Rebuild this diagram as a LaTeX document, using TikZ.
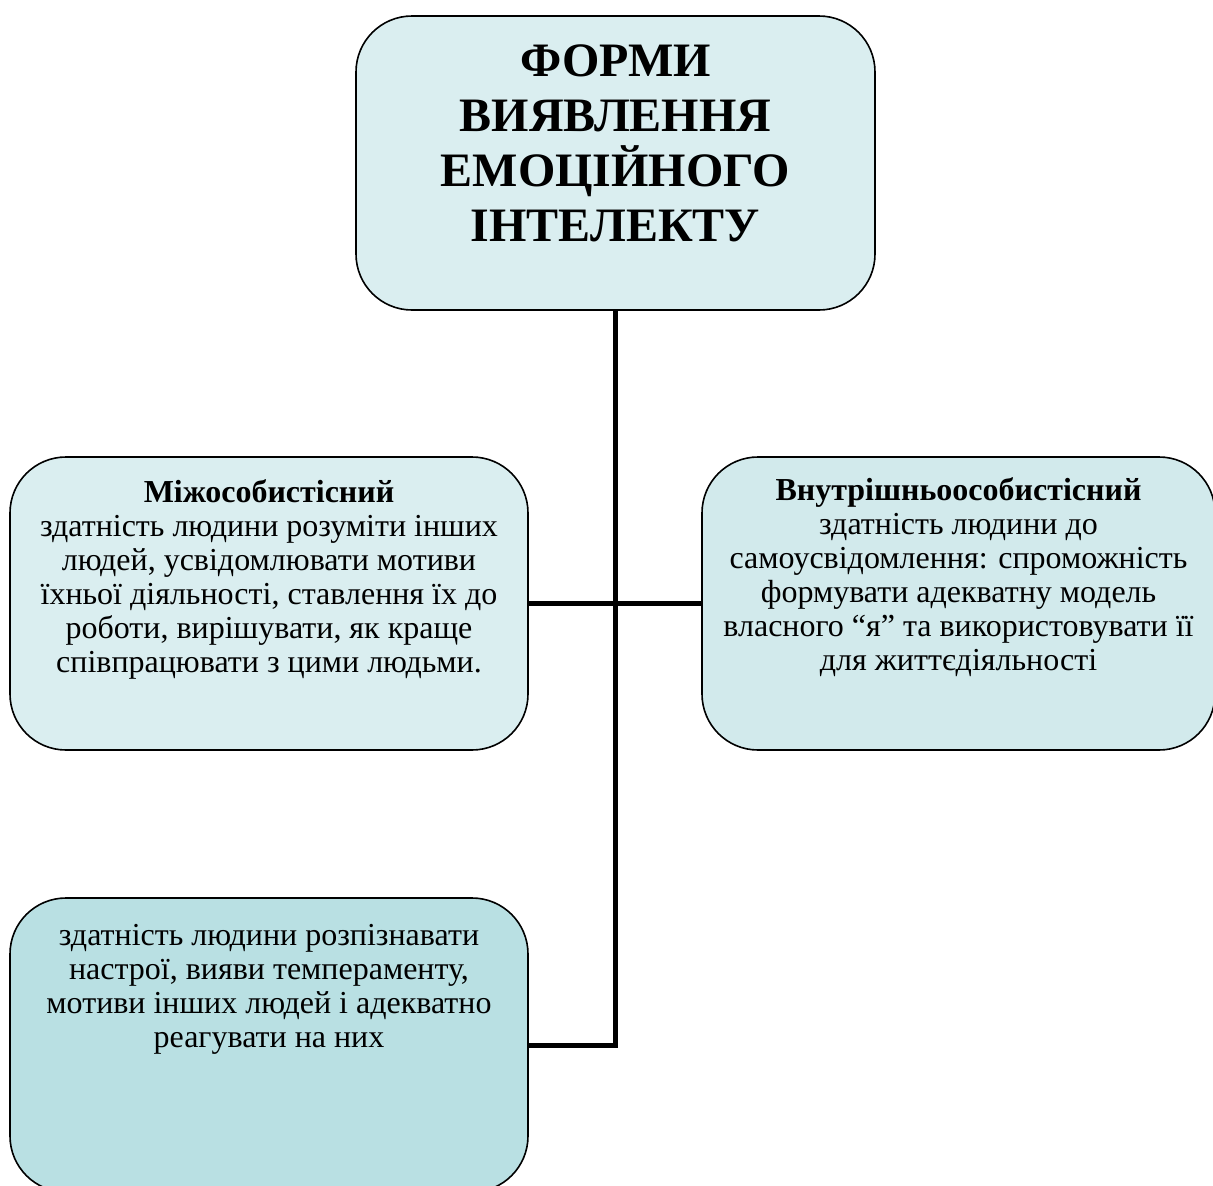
\documentclass[tikz,border=0pt]{standalone}
\usepackage{fontspec}
\setmainfont{Liberation Serif}
\definecolor{fillA}{RGB}{218,238,240}
\definecolor{fillB}{RGB}{210,234,236}
\definecolor{fillC}{RGB}{185,224,227}
\begin{document}
\begin{tikzpicture}[x=1pt,y=-1pt,
  box/.style={draw=black,line width=1.6pt,rounded corners=56pt,inner sep=0pt},
  txt/.style={anchor=north,align=center,inner sep=0pt,font=\fontsize{32}{34}\selectfont},
  ttl/.style={anchor=north,align=center,inner sep=0pt,font=\fontsize{48}{55}\selectfont\bfseries},
  conn/.style={line width=5pt,black}]
\useasboundingbox (0,0) rectangle (1213,1186);
\node[box,fill=fillA,minimum width=519pt,minimum height=294pt] (top) at (615.5,163) {};
\node[box,fill=fillA,minimum width=518pt,minimum height=293pt] (left) at (269,603.5) {};
\node[box,fill=fillB,minimum width=513pt,minimum height=293pt] (right) at (958.5,603.5) {};
\node[box,fill=fillC,minimum width=518pt,minimum height=294pt] (bottom) at (269,1045) {};
\node[ttl] (ttext) at (615.5,38.2) {\strut ФОРМИ\\ВИЯВЛЕННЯ\\ЕМОЦІЙНОГО\\ІНТЕЛЕКТУ};
\node[txt] (ltext) at (269,478) {\strut\textbf{Міжособистісний}\\здатність людини розуміти інших\\людей, усвідомлювати мотиви\\їхньої діяльності, ставлення їх до\\роботи, вирішувати, як краще\\співпрацювати з цими людьми.};
\node[txt] (rtext) at (958.5,476) {\strut\textbf{Внутрішньоособистісний}\\здатність людини до\\самоусвідомлення: спроможність\\формувати адекватну модель\\власного “я” та використовувати її\\для життєдіяльності};
\node[txt] (btext) at (269,921) {\strut здатність людини розпізнавати\\настрої, вияви темпераменту,\\мотиви інших людей і адекватно\\реагувати на них};
\draw[conn] (left.east) -- (right.west);
\draw[conn] (top.south) |- (bottom.east);
\end{tikzpicture}
\end{document}
